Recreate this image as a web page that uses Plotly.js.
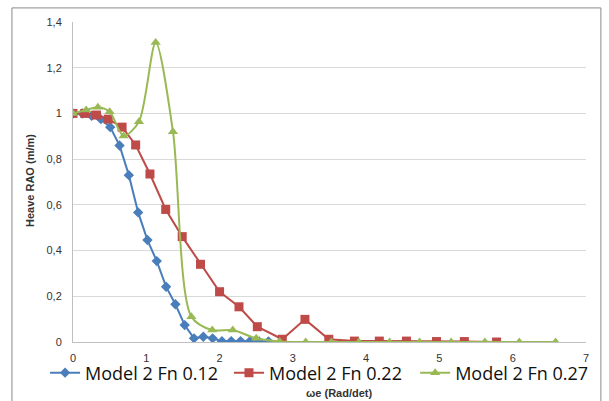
<!DOCTYPE html>
<html><head><meta charset="utf-8">
<script src="https://cdn.plot.ly/plotly-3.0.1.min.js"></script>
<style>body{margin:0;background:#fff}#c{width:609px;height:401px}</style>
</head><body><div id="c"></div>
<script>
// Data
const seriesNames = ["Model 2 Fn 0.12", "Model 2 Fn 0.22", "Model 2 Fn 0.27"];
const xFn012 = [0, 0.127, 0.254, 0.381, 0.508, 0.635, 0.762, 0.889, 1.016, 1.143, 1.27, 1.397, 1.524, 1.651, 1.778, 1.905, 2.032, 2.159, 2.286, 2.413, 2.54, 2.667];
const yFn012 = [1.0, 1.0, 0.99, 0.975, 0.94, 0.86, 0.73, 0.567, 0.446, 0.354, 0.242, 0.165, 0.074, 0.016, 0.023, 0.016, 0.003, 0.004, 0.004, 0.003, 0.002, 0.002];
const xFn022 = [0, 0.16, 0.32, 0.48, 0.67, 0.855, 1.05, 1.265, 1.49, 1.74, 2.0, 2.265, 2.515, 2.856, 3.165, 3.49, 3.84, 4.18, 4.55, 4.96, 5.34, 5.78];
const yFn022 = [1.0, 1.0, 0.993, 0.975, 0.94, 0.862, 0.735, 0.58, 0.461, 0.34, 0.22, 0.154, 0.067, 0.012, 0.099, 0.012, 0.004, 0.004, 0.004, 0.002, 0.002, 0.0];
const xFn027 = [0, 0.18, 0.34, 0.5, 0.69, 0.9, 1.128, 1.364, 1.615, 1.9, 2.18, 2.5, 2.82, 3.175, 3.525, 3.9, 4.32, 4.73, 5.16, 5.62, 6.09, 6.585];
const yFn027 = [1.0, 1.015, 1.027, 1.007, 0.901, 0.964, 1.31, 0.92, 0.111, 0.052, 0.052, 0.016, 0.002, 0, 0, 0, 0, 0, 0, 0, 0, 0];
const yTickVals = [0, 0.2, 0.4, 0.6, 0.8, 1, 1.2, 1.4];
const yTickText = ["0", "0,2", "0,4", "0,6", "0,8", "1", "1,2", "1,4"];
const xTickVals = [0, 1, 2, 3, 4, 5, 6, 7];
const xTitle = "ωe (Rad/det)";
const yTitle = "Heave RAO (m/m)";

const traces = [
  {x: xFn012, y: yFn012, name: seriesNames[0], mode: "lines+markers", legend: "legend",
   line: {color: "#4A7EBB", width: 2}, marker: {symbol: "diamond", size: 8, color: "#4A7EBB"}},
  {x: xFn022, y: yFn022, name: seriesNames[1], mode: "lines+markers", legend: "legend2",
   line: {color: "#BE4B48", width: 2}, marker: {symbol: "square", size: 9, color: "#BE4B48"}},
  {x: xFn027, y: yFn027, name: seriesNames[2], mode: "lines+markers", legend: "legend3",
   line: {color: "#98B954", width: 2, shape: "spline", smoothing: 0.8}, marker: {symbol: "triangle-up", size: 9, color: "#98B954"}}
];

const legFont = {size: 18, color: "#111", family: "Open Sans, sans-serif"};
const legBase = {orientation: "h", xref: "container", yref: "container", y: 0.07, yanchor: "middle",
  font: legFont, bgcolor: "rgba(0,0,0,0)", itemwidth: 30};

const layout = {
  width: 609, height: 401,
  margin: {l: 73, r: 23, t: 22, b: 59, autoexpand: false},
  paper_bgcolor: "#fff", plot_bgcolor: "#fff",
  font: {family: "Liberation Sans, Arial, sans-serif", color: "#333"},
  showlegend: true,
  legend: Object.assign({}, legBase, {x: 0.074, xanchor: "left"}),
  legend2: Object.assign({}, legBase, {x: 0.376, xanchor: "left"}),
  legend3: Object.assign({}, legBase, {x: 0.974, xanchor: "right"}),
  xaxis: {range: [0, 7], tickvals: xTickVals, showgrid: false, zeroline: false,
    showline: true, linecolor: "#bfbfbf", linewidth: 1, ticks: "", tickfont: {size: 11, color: "#333"}, ticklabelstandoff: 6},
  yaxis: {range: [0, 1.4], tickvals: yTickVals, ticktext: yTickText, showgrid: true, gridcolor: "#d9d9d9",
    zeroline: false, showline: true, linecolor: "#bfbfbf", ticks: "", tickfont: {size: 11, color: "#333"}, ticklabelstandoff: 8},
  annotations: [
    {text: "<b>" + xTitle + "</b>", xref: "paper", yref: "paper", x: 0.518, y: -0.159, xanchor: "center", yanchor: "middle",
     showarrow: false, font: {size: 11, color: "#333"}},
    {text: "<b>" + yTitle + "</b>", xref: "paper", yref: "paper", x: -0.084, y: 0.506, xanchor: "center", yanchor: "middle",
     textangle: -90, showarrow: false, font: {size: 11, color: "#333"}}
  ],
  shapes: [
    {type: "rect", xref: "paper", yref: "paper", x0: -0.119, x1: 1.029, y0: -0.3, y1: 1.044,
     line: {color: "#8a8a8a", width: 1}, layer: "below"}
  ]
};
Plotly.newPlot("c", traces, layout, {displayModeBar: false, staticPlot: true});
</script></body></html>
